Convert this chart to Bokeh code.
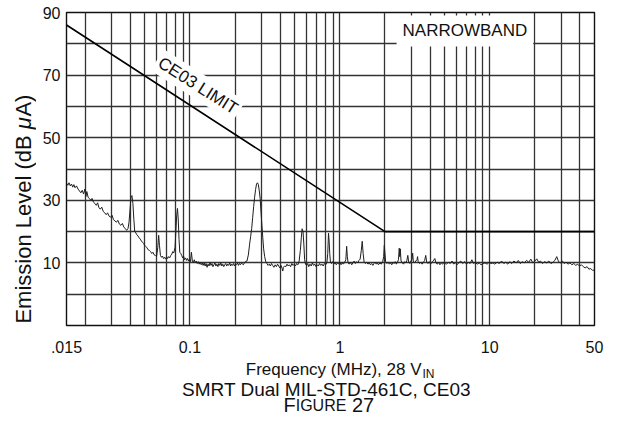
from bokeh.plotting import figure
from bokeh.models import FixedTicker, Label, Range1d
from bokeh.layouts import column, row
from bokeh.embed import file_html
from bokeh.resources import INLINE

# ---------------- data ----------------
x_tick_vals = [0.015, 0.1, 1, 10, 50]
x_tick_labels = [".015", "0.1", "1", "10", "50"]
y_tick_vals = [10, 30, 50, 70, 90]
x_grid_vals = [0.02, 0.03, 0.04, 0.05, 0.06, 0.07, 0.08, 0.09,
               0.1, 0.2, 0.3, 0.4, 0.5, 0.6, 0.7, 0.8, 0.9,
               1, 2, 3, 4, 5, 6, 7, 8, 9, 10, 20, 30, 40]
y_grid_vals = [0, 10, 20, 30, 40, 50, 60, 70, 80]

limit_freq = [0.015, 2.0, 50.0]
limit_level = [86, 20, 20]

trace_freq = [
    0.0150, 0.0153, 0.0156, 0.0159, 0.0162, 0.0165, 0.0168, 0.0171, 0.0175, 0.0179,
    0.0183, 0.0187, 0.0191, 0.0195, 0.0199, 0.0202, 0.0205, 0.0209, 0.0213, 0.0218,
    0.0222, 0.0227, 0.0232, 0.0237, 0.0242, 0.0247, 0.0252, 0.0258, 0.0264, 0.0270,
    0.0276, 0.0282, 0.0288, 0.0295, 0.0302, 0.0309, 0.0316, 0.0323, 0.0330, 0.0338,
    0.0346, 0.0354, 0.0362, 0.0370, 0.0378, 0.0386, 0.0392, 0.0398, 0.0404, 0.0410,
    0.0416, 0.0422, 0.0428, 0.0435, 0.0442, 0.0450, 0.0458, 0.0466, 0.0474, 0.0482,
    0.0490, 0.0499, 0.0508, 0.0517, 0.0526, 0.0536, 0.0546, 0.0556, 0.0566, 0.0576,
    0.0587, 0.0598, 0.0610, 0.0618, 0.0626, 0.0635, 0.0645, 0.0655, 0.0665, 0.0676,
    0.0687, 0.0698, 0.0709, 0.0720, 0.0732, 0.0744, 0.0756, 0.0768, 0.0780, 0.0795,
    0.0805, 0.0815, 0.0825, 0.0835, 0.0845, 0.0855, 0.0868, 0.0880, 0.0893, 0.0906,
    0.0920, 0.0934, 0.0948, 0.0962, 0.0977, 0.0992, 0.1007, 0.1022, 0.1037, 0.1053,
    0.1069, 0.1085, 0.1101, 0.1118, 0.1135, 0.1152, 0.1170, 0.1188, 0.1206, 0.1224,
    0.1243, 0.1262, 0.1281, 0.1300, 0.1320, 0.1340, 0.1360, 0.1381, 0.1402, 0.1423,
    0.1445, 0.1467, 0.1489, 0.1512, 0.1535, 0.1558, 0.1582, 0.1606, 0.1630, 0.1655,
    0.1680, 0.1706, 0.1732, 0.1758, 0.1785, 0.1812, 0.1840, 0.1868, 0.1896, 0.1925,
    0.1954, 0.1984, 0.2014, 0.2045, 0.2076, 0.2108, 0.2140, 0.2172, 0.2205, 0.2239,
    0.2273, 0.2307, 0.2342, 0.2400, 0.2450, 0.2500, 0.2540, 0.2580, 0.2620, 0.2660,
    0.2700, 0.2740, 0.2780, 0.2820, 0.2860, 0.2900, 0.2940, 0.2980, 0.3020, 0.3060,
    0.3100, 0.3150, 0.3200, 0.3260, 0.3320, 0.3380, 0.3440, 0.3500, 0.3560, 0.3630,
    0.3700, 0.3770, 0.3840, 0.3910, 0.3980, 0.4050, 0.4120, 0.4160, 0.4200, 0.4280,
    0.4360, 0.4440, 0.4520, 0.4600, 0.4690, 0.4780, 0.4870, 0.4960, 0.5050, 0.5150,
    0.5250, 0.5350, 0.5450, 0.5530, 0.5600, 0.5680, 0.5750, 0.5820, 0.5900, 0.6000,
    0.6100, 0.6200, 0.6320, 0.6440, 0.6560, 0.6680, 0.6800, 0.6930, 0.7060, 0.7190,
    0.7320, 0.7460, 0.7600, 0.7740, 0.7890, 0.8040, 0.8190, 0.8300, 0.8400, 0.8480,
    0.8560, 0.8650, 0.8800, 0.8960, 0.9120, 0.9290, 0.9460, 0.9640, 0.9820, 1.0000,
    1.0180, 1.0370, 1.0560, 1.0760, 1.0960, 1.1100, 1.1220, 1.1350, 1.1560, 1.1780,
    1.2000, 1.2220, 1.2450, 1.2680, 1.2920, 1.3160, 1.3400, 1.3650, 1.3900, 1.4100,
    1.4300, 1.4500, 1.4800, 1.5100, 1.5400, 1.5700, 1.6000, 1.6300, 1.6600, 1.6900,
    1.7200, 1.7500, 1.7800, 1.8100, 1.8500, 1.8900, 1.9300, 1.9600, 1.9800, 2.0000,
    2.0200, 2.0600, 2.1000, 2.1400, 2.1800, 2.2200, 2.2600, 2.3000, 2.3400, 2.3800,
    2.4200, 2.4600, 2.4900, 2.5100, 2.5300, 2.5600, 2.6100, 2.6600, 2.7100, 2.7600,
    2.8000, 2.8400, 2.8800, 2.9300, 2.9800, 3.0300, 3.0600, 3.0900, 3.1500, 3.2100,
    3.2700, 3.3000, 3.3300, 3.4000, 3.4700, 3.5400, 3.6100, 3.6800, 3.7400, 3.8000,
    3.8700, 3.9500, 4.0300, 4.1100, 4.2000, 4.3000, 4.3800, 4.4700, 4.5600, 4.6500,
    4.7500, 4.8500, 4.9500, 5.0500, 5.1500, 5.3000, 5.4500, 5.6000, 5.7500, 5.9000,
    6.0500, 6.2000, 6.4000, 6.6000, 6.8000, 7.0000, 7.2000, 7.4000, 7.6000, 7.8000,
    8.0000, 8.2500, 8.5000, 8.7500, 9.0000, 9.3000, 9.6000, 9.9000, 10.200, 10.500,
    10.800, 11.200, 11.600, 12.000, 12.400, 12.800, 13.200, 13.600, 14.000, 14.500,
    15.000, 15.500, 16.000, 16.500, 17.000, 17.600, 18.200, 18.800, 19.400, 20.000,
    20.600, 21.200, 21.800, 22.500, 23.200, 24.000, 24.800, 25.600, 26.400, 27.200,
    28.000, 28.800, 29.600, 30.500, 31.400, 32.300, 33.300, 34.300, 35.300, 36.400,
    37.500, 38.600, 39.700, 40.900, 42.100, 43.300, 44.600, 45.900, 47.200, 48.500,
    50.000,
]
trace_level = [
    35.5, 34.8, 35.6, 34.6, 35.2, 34.2, 35.0, 34.0, 34.6, 33.6,
    33.0, 32.4, 33.2, 32.0, 33.6, 31.2, 32.8, 31.0, 30.6, 30.0,
    30.6, 29.4, 29.0, 28.4, 29.2, 27.6, 27.2, 27.8, 26.4, 26.0,
    25.4, 26.0, 25.0, 24.6, 25.2, 23.8, 23.4, 23.0, 23.6, 22.4,
    22.0, 22.6, 21.4, 21.0, 20.4, 21.0, 23.0, 27.0, 31.0, 31.5,
    29.0, 24.0, 20.0, 19.6, 19.0, 18.6, 18.0, 17.6, 17.0, 16.6,
    16.2, 15.6, 15.2, 14.8, 14.2, 14.0, 13.6, 13.0, 13.4, 12.6,
    12.4, 12.0, 15.0, 18.8, 15.5, 12.4, 11.8, 12.2, 11.4, 11.8,
    11.2, 12.0, 11.4, 12.0, 11.6, 12.4, 12.8, 13.6, 13.2, 15.0,
    20.0, 25.0, 27.4, 24.0, 17.5, 13.4, 13.0, 12.4, 11.6, 12.2,
    11.0, 11.6, 10.8, 11.4, 10.6, 11.2, 10.4, 13.4, 10.6, 10.2,
    11.0, 10.0, 10.6, 9.8, 10.4, 9.6, 10.2, 9.4, 10.0, 9.2,
    10.0, 9.0, 9.8, 8.6, 9.6, 9.0, 10.2, 9.2, 9.8, 8.8,
    9.4, 10.0, 9.0, 9.6, 8.8, 9.8, 9.2, 10.0, 9.0, 9.6,
    8.8, 9.4, 9.8, 9.0, 9.6, 9.2, 10.0, 9.0, 9.6, 9.2,
    9.8, 9.0, 9.6, 9.4, 10.0, 9.2, 9.8, 9.4, 10.0, 9.6,
    9.4, 10.0, 10.4, 10.6, 12.5, 16.0, 18.5, 21.0, 24.5, 28.0,
    31.0, 33.5, 35.2, 35.6, 35.0, 33.0, 30.5, 26.0, 22.0, 18.0,
    14.5, 12.0, 10.5, 9.8, 9.2, 9.6, 9.0, 9.8, 9.2, 8.6,
    9.4, 8.8, 9.6, 9.0, 8.4, 9.2, 8.2, 7.4, 8.6, 9.0,
    8.8, 9.6, 9.0, 9.4, 8.8, 9.8, 9.2, 9.6, 9.0, 9.8,
    9.4, 10.6, 14.0, 18.0, 20.9, 20.0, 16.0, 11.0, 9.6, 9.2,
    9.8, 8.8, 9.6, 9.0, 10.0, 9.2, 9.6, 8.8, 9.4, 9.0,
    9.8, 9.2, 9.6, 9.0, 9.8, 9.4, 10.0, 13.0, 19.5, 17.0,
    13.0, 10.2, 9.8, 10.4, 9.6, 10.2, 9.4, 10.0, 9.6, 10.2,
    9.4, 10.0, 9.6, 10.2, 11.0, 15.3, 12.0, 10.0, 9.6, 10.2,
    9.4, 10.0, 10.6, 9.8, 10.4, 10.0, 10.8, 11.2, 14.0, 16.9,
    13.0, 10.4, 9.8, 10.2, 9.6, 10.0, 9.4, 9.8, 9.2, 9.8,
    10.2, 9.6, 10.0, 9.4, 10.0, 9.6, 10.4, 12.0, 15.6, 13.0,
    10.4, 9.8, 10.2, 9.6, 10.0, 9.4, 10.2, 9.8, 10.4, 9.6,
    10.2, 11.0, 14.7, 12.0, 14.5, 10.6, 10.0, 9.6, 10.4, 10.0,
    10.8, 12.4, 10.2, 9.8, 10.6, 11.2, 13.1, 10.6, 10.0, 10.6,
    11.0, 12.0, 10.4, 9.8, 10.2, 9.6, 10.2, 10.8, 12.4, 10.2,
    9.8, 10.4, 9.6, 10.2, 10.6, 11.4, 10.0, 9.6, 10.2, 9.4,
    10.0, 9.6, 10.2, 9.8, 9.6, 10.2, 9.8, 10.6, 9.6, 10.2,
    9.4, 10.0, 10.6, 9.8, 10.4, 9.6, 10.2, 9.8, 11.0, 9.8,
    10.2, 9.6, 10.0, 9.4, 9.8, 10.0, 9.6, 10.2, 9.8, 10.0,
    9.6, 10.2, 9.8, 10.6, 9.8, 10.2, 9.6, 10.4, 9.8, 10.6,
    10.0, 10.8, 9.8, 10.4, 10.0, 10.8, 10.2, 11.2, 10.0, 10.6,
    11.3, 10.2, 10.6, 9.8, 10.4, 10.0, 10.6, 9.8, 10.2, 10.8,
    12.0, 10.4, 10.0, 10.6, 9.8, 10.2, 9.6, 10.0, 9.4, 9.8,
    9.2, 9.6, 9.0, 9.4, 8.8, 8.4, 8.8, 8.0, 8.2, 7.6,
    7.8,
]

# ---------------- layout ----------------
FONT = "Liberation Sans"
INK = "#111111"
TOTAL_W, TOTAL_H = 604, 416
LEFT_W = 36            # strip holding the rotated y title
TOP_H = 360            # height of the plot row
BOTTOM_H = TOTAL_H - TOP_H
SHIFT = 7              # measured offset of the caption strip


def text_strip(w, h, x_range, y_range):
    f = figure(width=w, height=h, x_range=x_range, y_range=y_range, title=None,
               output_backend="svg", toolbar_location=None,
               x_axis_location=None, y_axis_location=None)
    f.min_border = 0
    f.outline_line_color = None
    f.grid.visible = False
    f.background_fill_color = "white"
    f.border_fill_color = "white"
    return f


# ---- main chart ----
p = figure(width=TOTAL_W - LEFT_W, height=TOP_H, x_axis_type="log", title=None,
           x_range=Range1d(0.015, 50), y_range=Range1d(-10, 90),
           output_backend="svg", toolbar_location=None)
p.min_border = 0
p.min_border_left = 30
p.min_border_right = 10
p.min_border_top = 12
p.min_border_bottom = 35
p.background_fill_color = "white"
p.border_fill_color = "white"
p.outline_line_color = INK
p.outline_line_width = 1.4

p.xgrid.ticker = FixedTicker(ticks=x_grid_vals)
p.ygrid.ticker = FixedTicker(ticks=y_grid_vals)
for g in (p.xgrid, p.ygrid):
    g.grid_line_color = "#333333"
    g.grid_line_width = 1.3

p.xaxis.ticker = FixedTicker(ticks=x_tick_vals)
p.xaxis.major_label_overrides = dict(zip(x_tick_vals, x_tick_labels))
p.yaxis.ticker = FixedTicker(ticks=y_tick_vals)
for ax in (p.xaxis, p.yaxis):
    ax.axis_line_color = None
    ax.major_tick_line_color = None
    ax.minor_tick_line_color = None
    ax.major_tick_out = 0
    ax.major_tick_in = 0
    ax.major_label_text_font = FONT
    ax.major_label_text_font_size = "16px"
    ax.major_label_text_color = INK
p.xaxis.major_label_standoff = 15
p.yaxis.major_label_standoff = 6

p.line(trace_freq, trace_level, line_color="#1e1e1e", line_width=1.0)
p.line(limit_freq, limit_level, line_color="#000000", line_width=1.6)

p.add_layout(Label(x=2.39, y=84.1, text="NARROWBAND", text_align="left",
                   text_baseline="middle", text_font=FONT, text_font_size="17px",
                   text_color=INK, background_fill_color="white", padding=6))
p.add_layout(Label(x=0.113, y=66.6, text="CE03 LIMIT", text_align="center",
                   text_baseline="middle", angle=-32.5, angle_units="deg",
                   text_font=FONT, text_font_size="17px", text_color=INK,
                   background_fill_color="white", padding=3))

# ---- y title strip: shares the chart's y range (dB units) ----
yl = text_strip(LEFT_W, TOP_H, Range1d(0, LEFT_W), p.y_range)
ys = 22                       # font px
px_per_db = 3.13
y_base = -9.4                 # start of the rotated text (dB units)
w_main = 8.836 * ys / px_per_db
w_mu = 0.576 * ys / px_per_db
for txt, yy, style in [("Emission Level (dB ", y_base, "normal"),
                       ("\u03bc", y_base + w_main, "italic"),
                       ("A)", y_base + w_main + w_mu, "normal")]:
    yl.add_layout(Label(x=22.5, y=yy, text=txt, angle=90, angle_units="deg",
                        text_align="left", text_baseline="middle",
                        text_font=FONT, text_font_style=style,
                        text_font_size=f"{ys}px", text_color=INK))

# ---- bottom strip: x title + caption (y given as page position) ----
bt = text_strip(TOTAL_W, BOTTOM_H, Range1d(0, TOTAL_W), Range1d(TOTAL_H, TOP_H))
bt.add_layout(Label(x=421, y=376 - SHIFT, text="Frequency (MHz), 28 V",
                    text_align="right", text_baseline="alphabetic", text_font=FONT,
                    text_font_size="17px", text_color=INK))
bt.add_layout(Label(x=422, y=380 - SHIFT, text="IN", text_align="left",
                    text_baseline="alphabetic", text_font=FONT,
                    text_font_size="12px", text_color=INK))
bt.add_layout(Label(x=326, y=396 - SHIFT, text="SMRT Dual MIL-STD-461C, CE03",
                    text_align="center", text_baseline="alphabetic",
                    text_font=FONT, text_font_size="19px", text_color=INK))
big, small = 20, 16
fx = 283
fy = 411.5 - SHIFT
bt.add_layout(Label(x=fx, y=fy, text="F", text_align="left",
                    text_baseline="alphabetic", text_font=FONT,
                    text_font_size=f"{big}px", text_color=INK))
bt.add_layout(Label(x=fx + 0.611 * big, y=fy, text="IGURE", text_align="left",
                    text_baseline="alphabetic", text_font=FONT,
                    text_font_size=f"{small}px", text_color=INK))
bt.add_layout(Label(x=fx + 0.611 * big + 3.17 * small + 0.278 * big, y=fy, text="27",
                    text_align="left", text_baseline="alphabetic", text_font=FONT,
                    text_font_size=f"{big}px", text_color=INK))

layout = column(row(yl, p, spacing=0), bt, spacing=0)
open("out.html", "w").write(file_html(layout, INLINE))
